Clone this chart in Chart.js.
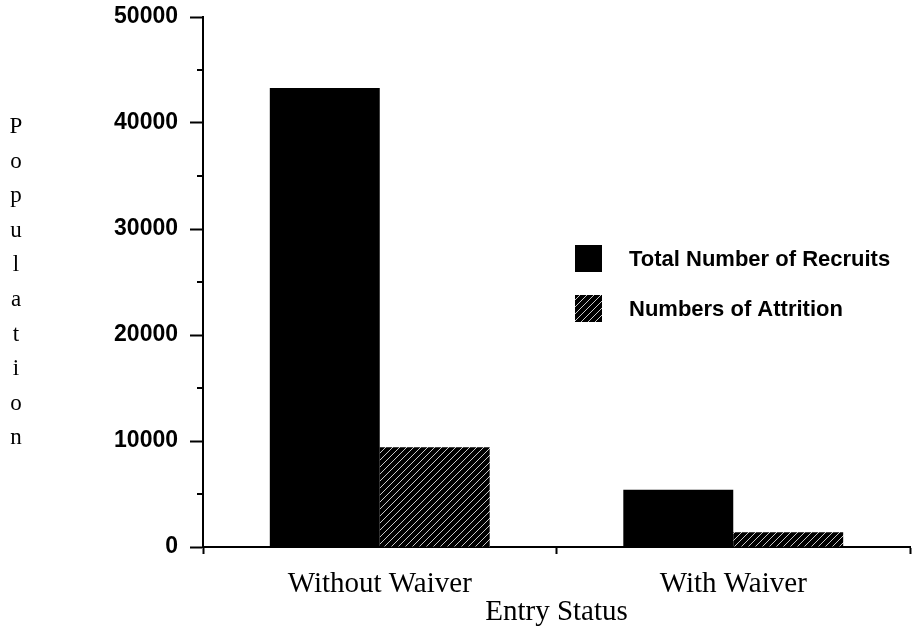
<!DOCTYPE html>
<html><head><meta charset="utf-8">
<script src="https://cdn.jsdelivr.net/npm/chart.js@4.4.1/dist/chart.umd.min.js"></script>
<style>html,body{margin:0;padding:0;background:#fff;}</style>
</head><body>
<canvas id="c" width="913" height="642"></canvas>
<script>
const categories = ['Without Waiver', 'With Waiver'];
const totalRecruits = [43300, 5400];
const attrition = [9400, 1400];
const yTicks = [0, 10000, 20000, 30000, 40000, 50000];
const minorTicks = [5000, 15000, 25000, 35000, 45000];
const seriesNames = ['Total Number of Recruits', 'Numbers of Attrition'];
const yTitle = 'Population';
const xTitle = 'Entry Status';

const canvas = document.getElementById('c');
const ctx = canvas.getContext('2d');

function hatch() {
  const s = 7, c = document.createElement('canvas');
  c.width = s; c.height = s;
  const g = c.getContext('2d');
  g.fillStyle = '#000'; g.fillRect(0, 0, s, s);
  g.strokeStyle = '#c8c8c8'; g.lineWidth = 1;
  g.beginPath();
  g.moveTo(0, s); g.lineTo(s, 0);
  g.moveTo(-1, 1); g.lineTo(1, -1);
  g.moveTo(s - 1, s + 1); g.lineTo(s + 1, s - 1);
  g.stroke();
  return ctx.createPattern(c, 'repeat');
}

const extras = {
  id: 'extras',
  afterDraw(chart) {
    const c = chart.ctx, y = chart.scales.y, area = chart.chartArea;
    c.save();
    // minor ticks
    c.strokeStyle = '#000'; c.lineWidth = 2;
    minorTicks.forEach(v => {
      const py = Math.round(y.getPixelForValue(v));
      c.beginPath(); c.moveTo(area.left - 6, py); c.lineTo(area.left, py); c.stroke();
    });
    // legend
    const lx = 575, ly = [245, 295], box = 27;
    chart.data.datasets.forEach((ds, i) => {
      c.fillStyle = ds.backgroundColor;
      c.fillRect(lx, ly[i], box, box);
      c.fillStyle = '#000';
      c.font = 'bold 22px "Liberation Sans", Arial, sans-serif';
      c.textAlign = 'left'; c.textBaseline = 'middle';
      c.fillText(ds.label, 629, ly[i] + box / 2 + 1);
    });
    // vertical y title
    c.font = '23px "Liberation Serif", "Times New Roman", serif';
    c.textAlign = 'center'; c.textBaseline = 'middle';
    yTitle.split('').forEach((ch, i) => c.fillText(ch, 16, 127 + i * 34.6));
    c.restore();
  }
};

new Chart(ctx, {
  type: 'bar',
  data: {
    labels: categories,
    datasets: [
      { label: seriesNames[0], data: totalRecruits, backgroundColor: '#000', borderWidth: 0 },
      { label: seriesNames[1], data: attrition, backgroundColor: hatch(), borderWidth: 0 }
    ]
  },
  options: {
    responsive: false,
    animation: false,
    layout: { padding: { top: 17, right: 3, left: 0, bottom: 12 } },
    datasets: { bar: { categoryPercentage: 0.622, barPercentage: 1 } },
    plugins: { legend: { display: false }, tooltip: { enabled: false } },
    scales: {
      x: {
        grid: { offset: true, drawOnChartArea: false, tickLength: 7, tickColor: '#000', tickWidth: 2 },
        border: { color: '#000', width: 2 },
        ticks: { color: '#000', font: { family: '"Liberation Serif", "Times New Roman", serif', size: 29 }, padding: 13 },
        title: { display: true, text: xTitle, color: '#000', font: { family: '"Liberation Serif", "Times New Roman", serif', size: 29 }, padding: 0 },
        afterFit(s) { s.height = 83; s.paddingLeft = 0; s.paddingRight = 0; }
      },
      y: {
        min: 0, max: 50000,
        afterBuildTicks(s) { s.ticks = yTicks.map(v => ({ value: v })); },
        grid: { drawOnChartArea: false, tickLength: 13, tickColor: '#000', tickWidth: 2 },
        border: { color: '#000', width: 2 },
        ticks: { color: '#000', font: { family: '"Liberation Sans", Arial, sans-serif', size: 23, weight: 'bold' }, padding: 12, callback: v => String(v) },
        afterFit(s) { s.width = 203; s.paddingTop = 0; s.paddingBottom = 0; }
      }
    }
  },
  plugins: [extras]
});
</script>
</body></html>
